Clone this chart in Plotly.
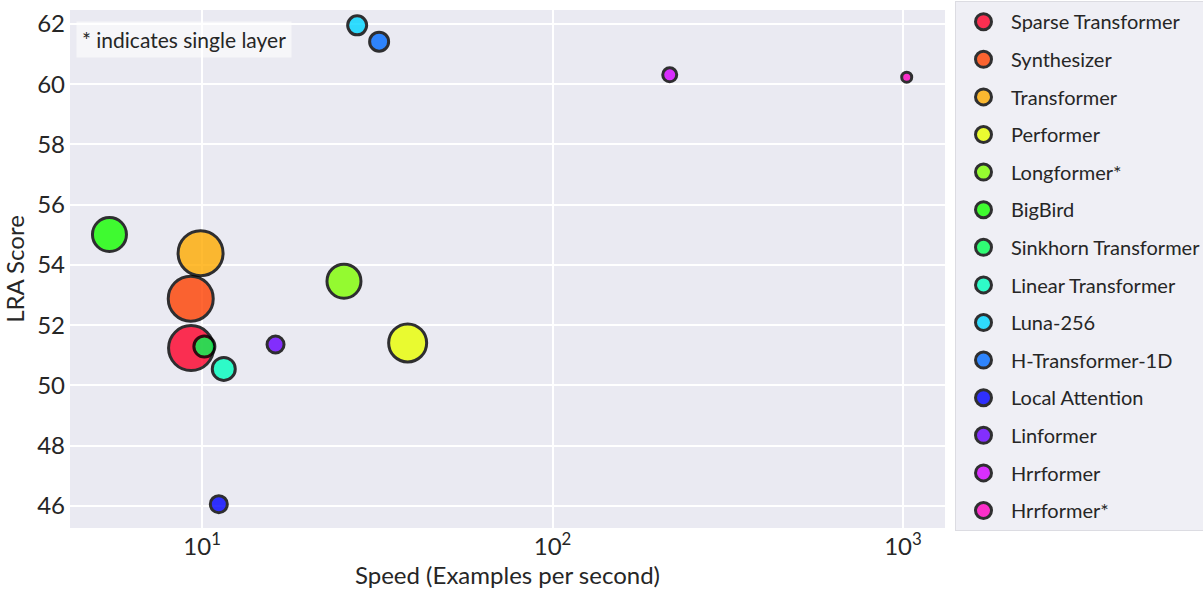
import plotly.graph_objects as go

models = ["Sparse Transformer", "Synthesizer", "Transformer", "Performer", "Longformer*",
          "BigBird", "Sinkhorn Transformer", "Linear Transformer", "Luna-256",
          "H-Transformer-1D", "Local Attention", "Linformer", "Hrrformer", "Hrrformer*"]
speed = [9.3, 9.28, 9.9, 38.6, 25.4, 5.44, 10.15, 11.53, 27.7, 32.0, 11.16, 16.2, 216, 1025]
score = [51.24, 52.88, 54.39, 51.41, 53.46, 55.01, 51.29, 50.55, 61.95, 61.41, 46.06, 51.36, 60.31, 60.23]
bubble = [45, 45, 45, 38, 34, 34, 21, 23, 19, 19, 17, 17, 14, 10]
colors = ["#ff0029", "#ff4100", "#ffab00", "#e9ff00", "#7fff00", "#15ff00", "#00ff54",
          "#00ffbe", "#00d6ff", "#006bff", "#0001ff", "#6900ff", "#d400ff", "#ff00bf"]

FONT = "Lato, 'Open Sans', sans-serif"
TXT = "#262626"

fig = go.Figure()
for i, m in enumerate(models):
    fig.add_trace(go.Scatter(
        x=[speed[i]], y=[score[i]], mode="markers", name=m, showlegend=False,
        legendgroup=m,
        marker=dict(size=bubble[i], color=colors[i], opacity=0.8,
                    line=dict(color="#000000", width=3)),
    ))
for i, m in enumerate(models):
    fig.add_trace(go.Scatter(
        x=[None], y=[None], mode="markers", name=m, showlegend=True, legendgroup=m,
        marker=dict(size=16, color=colors[i], opacity=0.8,
                    line=dict(color="#000000", width=3)),
    ))

fig.update_layout(
    width=1203, height=590,
    margin=dict(l=70, r=258, t=10, b=62),
    paper_bgcolor="white", plot_bgcolor="#eaeaf2",
    font=dict(family=FONT, color=TXT, size=20),
    xaxis=dict(type="log", range=[0.623, 3.12], showgrid=True, gridcolor="white",
               gridwidth=1.5, zeroline=False, ticks="", automargin=False,
               tickvals=[10, 100, 1000],
               ticktext=["10<sup>1</sup>", "10<sup>2</sup>", "10<sup>3</sup>"],
               tickfont=dict(size=24), ticklabelstandoff=2,
               title=dict(text="Speed (Examples per second)", font=dict(size=24), standoff=2)),
    yaxis=dict(range=[45.27, 62.46], showgrid=True, gridcolor="white", gridwidth=1.5,
               zeroline=False, ticks="", dtick=2, tick0=46, tickfont=dict(size=24),
               ticklabelstandoff=4, automargin=False,
               title=dict(text="LRA Score", font=dict(size=24), standoff=6)),
    legend=dict(xref="container", yref="container", x=955 / 1203, xanchor="left",
                y=0.998, yanchor="top",
                bgcolor="#efeff5", bordercolor="#dcdce2", borderwidth=1,
                font=dict(size=20, color=TXT), tracegroupgap=8.6,
                itemsizing="trace", itemwidth=45, maxheight=1.0),
    showlegend=True,
)
fig.add_annotation(
    xref="paper", yref="paper", x=0.007, y=0.979, xanchor="left", yanchor="top",
    text="* indicates single layer", showarrow=False,
    font=dict(size=21, color=TXT, family=FONT),
    bgcolor="rgba(255,255,255,0.55)", borderpad=5,
)
fig.write_html("out.html", post_script="document.body.style.margin='0';",
               config={"displayModeBar": False})
